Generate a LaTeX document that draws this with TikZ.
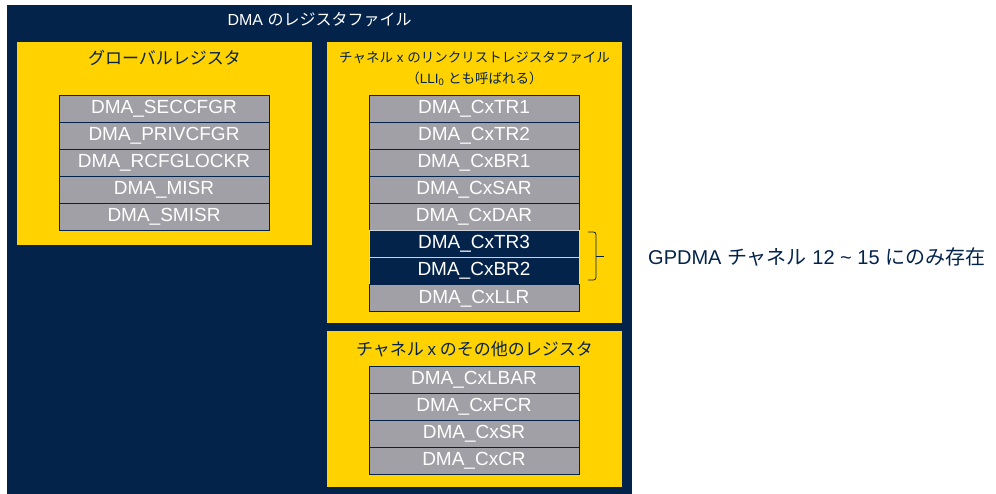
\documentclass[tikz,border=0pt]{standalone}
\usepackage{fontspec}
\setmainfont{Liberation Sans}
\newfontfamily\jp{Noto Sans CJK JP}
\definecolor{navy}{HTML}{03234B}
\definecolor{styel}{HTML}{FFD200}
\definecolor{reggray}{HTML}{A0A0A6}
\tikzset{
  panel/.style={fill=styel, draw=none, inner sep=0pt, anchor=north west},
  reg/.style={draw=navy, line width=0.8pt, fill=reggray, minimum width=210pt, minimum height=27.1pt,
    inner sep=0pt, text=white, font=\fontsize{19}{19}\selectfont},
  regdark/.style={reg, fill=navy, draw=white!80!navy},
  ptitle/.style={text=navy, font=\fontsize{17}{17}\selectfont\jp, inner sep=0pt},
  psub/.style={text=navy, font=\fontsize{13.5}{13.5}\selectfont, inner sep=0pt},
  brace/.style={draw=navy, line width=0.8pt}
}
\begin{document}
\begin{tikzpicture}[x=1pt,y=-1pt]
\useasboundingbox (0,0) rectangle (996,494);
% outer frame
\node[fill=navy, inner sep=0pt, anchor=north west, minimum width=625pt, minimum height=489pt] (outer) at (7,5) {};
\node[text=white, font=\fontsize{16}{16}\selectfont, inner sep=0pt] (title) at (319.5,20) {DMA {\jp のレジスタファイル}};
% panels
\node[panel, minimum width=295pt, minimum height=203pt] (pglob) at (17,42) {};
\node[panel, minimum width=295pt, minimum height=281pt] (plli) at (327,42) {};
\node[panel, minimum width=295pt, minimum height=156pt] (poth) at (327,331) {};
% panel titles
\node[ptitle] (tglob) at (164.5,58) {グローバルレジスタ};
\node[psub] (tlli) at (474.5,58) {{\jp チャネル} x {\jp のリンクリストレジスタファイル}};
\node[psub] (tlli2) at (474.5,79) {{\jp （}LLI\textsubscript{0} {\jp とも呼ばれる）}};
\node[ptitle] (toth) at (474.5,349) {チャネル {\rmfamily x} のその他のレジスタ};
% global registers
\node[reg] (g1) at (164,108.5) {DMA\_SECCFGR};
\node[reg] (g2) at (164,135.5) {DMA\_PRIVCFGR};
\node[reg] (g3) at (164,162.5) {DMA\_RCFGLOCKR};
\node[reg] (g4) at (164,189.5) {DMA\_MISR};
\node[reg] (g5) at (164,216.5) {DMA\_SMISR};
% linked-list registers
\node[reg] (l1) at (474,108.6) {DMA\_CxTR1};
\node[reg] (l2) at (474,135.7) {DMA\_CxTR2};
\node[reg] (l3) at (474,162.8) {DMA\_CxBR1};
\node[reg] (l4) at (474,189.9) {DMA\_CxSAR};
\node[reg] (l5) at (474,217.0) {DMA\_CxDAR};
\node[regdark] (l6) at (474,244.1) {DMA\_CxTR3};
\node[regdark] (l7) at (474,271.2) {DMA\_CxBR2};
\node[reg] (l8) at (474,298.3) {DMA\_CxLLR};
% other registers
\node[reg] (o1) at (474,379.5) {DMA\_CxLBAR};
\node[reg] (o2) at (474,406.5) {DMA\_CxFCR};
\node[reg] (o3) at (474,433.5) {DMA\_CxSR};
\node[reg] (o4) at (474,460.5) {DMA\_CxCR};
% brace
\coordinate (bt) at (588,232);
\coordinate (bb) at (588,280);
\coordinate (bm) at (596,256);
\coordinate (btip) at (604,256);
\draw[brace, rounded corners=2.5pt] (bt) -- (596,232) -- (596,280) -- (bb);
\draw[brace] (bm) -- (btip);
% side note
\node[text=navy, font=\fontsize{20}{20}\selectfont, inner sep=0pt, anchor=west] (note) at (648,257)
  {GPDMA {\jp チャネル} 12 \textasciitilde{} 15 {\jp にのみ存在}};
\end{tikzpicture}
\end{document}
